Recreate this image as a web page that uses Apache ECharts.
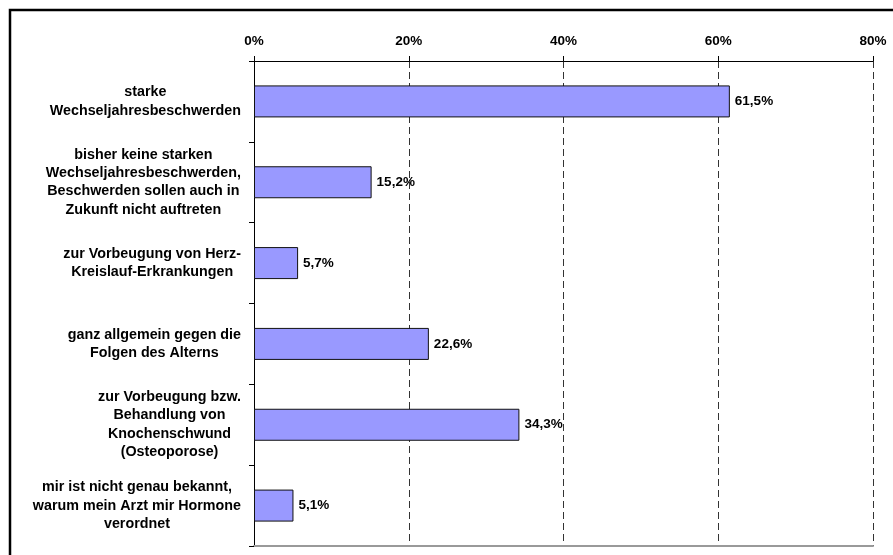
<!DOCTYPE html>
<html>
<head>
<meta charset="utf-8">
<script src="https://cdn.jsdelivr.net/npm/echarts@6/dist/echarts.min.js"></script>
<style>
html,body{margin:0;padding:0;background:#fff;}
#c{width:893px;height:555px;}
</style>
</head>
<body>
<div id="c"></div>
<script>
const categories = [
  "starke\nWechseljahresbeschwerden",
  "bisher keine starken\nWechseljahresbeschwerden,\nBeschwerden sollen auch in\nZukunft nicht auftreten",
  "zur Vorbeugung von Herz-\nKreislauf-Erkrankungen",
  "ganz allgemein gegen die\nFolgen des Alterns",
  "zur Vorbeugung bzw.\nBehandlung von\nKnochenschwund\n(Osteoporose)",
  "mir ist nicht genau bekannt,\nwarum mein Arzt mir Hormone\nverordnet"
];
const values = [61.5, 15.2, 5.7, 22.6, 34.3, 5.1];
const xTicks = [0, 20, 40, 60, 80];

const FONT = "'Liberation Sans', Arial, sans-serif";
const chart = echarts.init(document.getElementById('c'), null, {renderer: 'canvas'});

const option = {
  backgroundColor: '#ffffff',
  animation: false,
  graphic: [{
    type: 'rect',
    shape: {x: 10, y: 10, width: 900, height: 560},
    style: {fill: 'none', stroke: '#000', lineWidth: 2.5},
    silent: true,
    z: 100
  }],
  grid: {left: 254, top: 61, right: 20, bottom: 9, containLabel: false},
  xAxis: [{
    type: 'value',
    position: 'top',
    min: xTicks[0],
    max: xTicks[xTicks.length - 1],
    interval: xTicks[1] - xTicks[0],
    axisLine: {show: true, lineStyle: {color: '#000', width: 1}},
    axisTick: {show: true, length: 5, lineStyle: {color: '#000'}},
    axisLabel: {
      formatter: v => v + '%',
      color: '#000', fontWeight: 'bold', fontSize: 13.5, fontFamily: FONT, margin: 13
    },
    splitLine: {show: true, lineStyle: {color: '#333', type: [7, 4], width: 1}}
  }, {
    type: 'value',
    position: 'bottom',
    min: xTicks[0],
    max: xTicks[xTicks.length - 1],
    interval: xTicks[1] - xTicks[0],
    axisLine: {show: true, lineStyle: {color: '#999', width: 2}},
    axisTick: {show: false},
    axisLabel: {show: false},
    splitLine: {show: false}
  }],
  yAxis: {
    type: 'category',
    inverse: true,
    data: categories,
    axisLine: {show: true, lineStyle: {color: '#000', width: 1}},
    axisTick: {show: true, length: 5, lineStyle: {color: '#000'}},
    axisLabel: {
      align: 'right',
      margin: 13,
      formatter: v => v.split('\n').map(l => '{c|' + l + '}').join('\n'),
      rich: {
        c: {align: 'center', color: '#000', fontWeight: 'bold', fontSize: 14.3, fontFamily: FONT, lineHeight: 18.4}
      }
    }
  },
  series: [{
    type: 'bar',
    xAxisIndex: 0,
    data: values,
    barWidth: 32,
    itemStyle: {color: '#9999FF', borderColor: '#111', borderWidth: 1},
    label: {
      show: true,
      position: 'right',
      distance: 5,
      formatter: p => String(p.value).replace('.', ',') + '%',
      color: '#000', fontWeight: 'bold', fontSize: 13.5, fontFamily: FONT
    }
  }]
};
chart.setOption(option);
</script>
</body>
</html>
